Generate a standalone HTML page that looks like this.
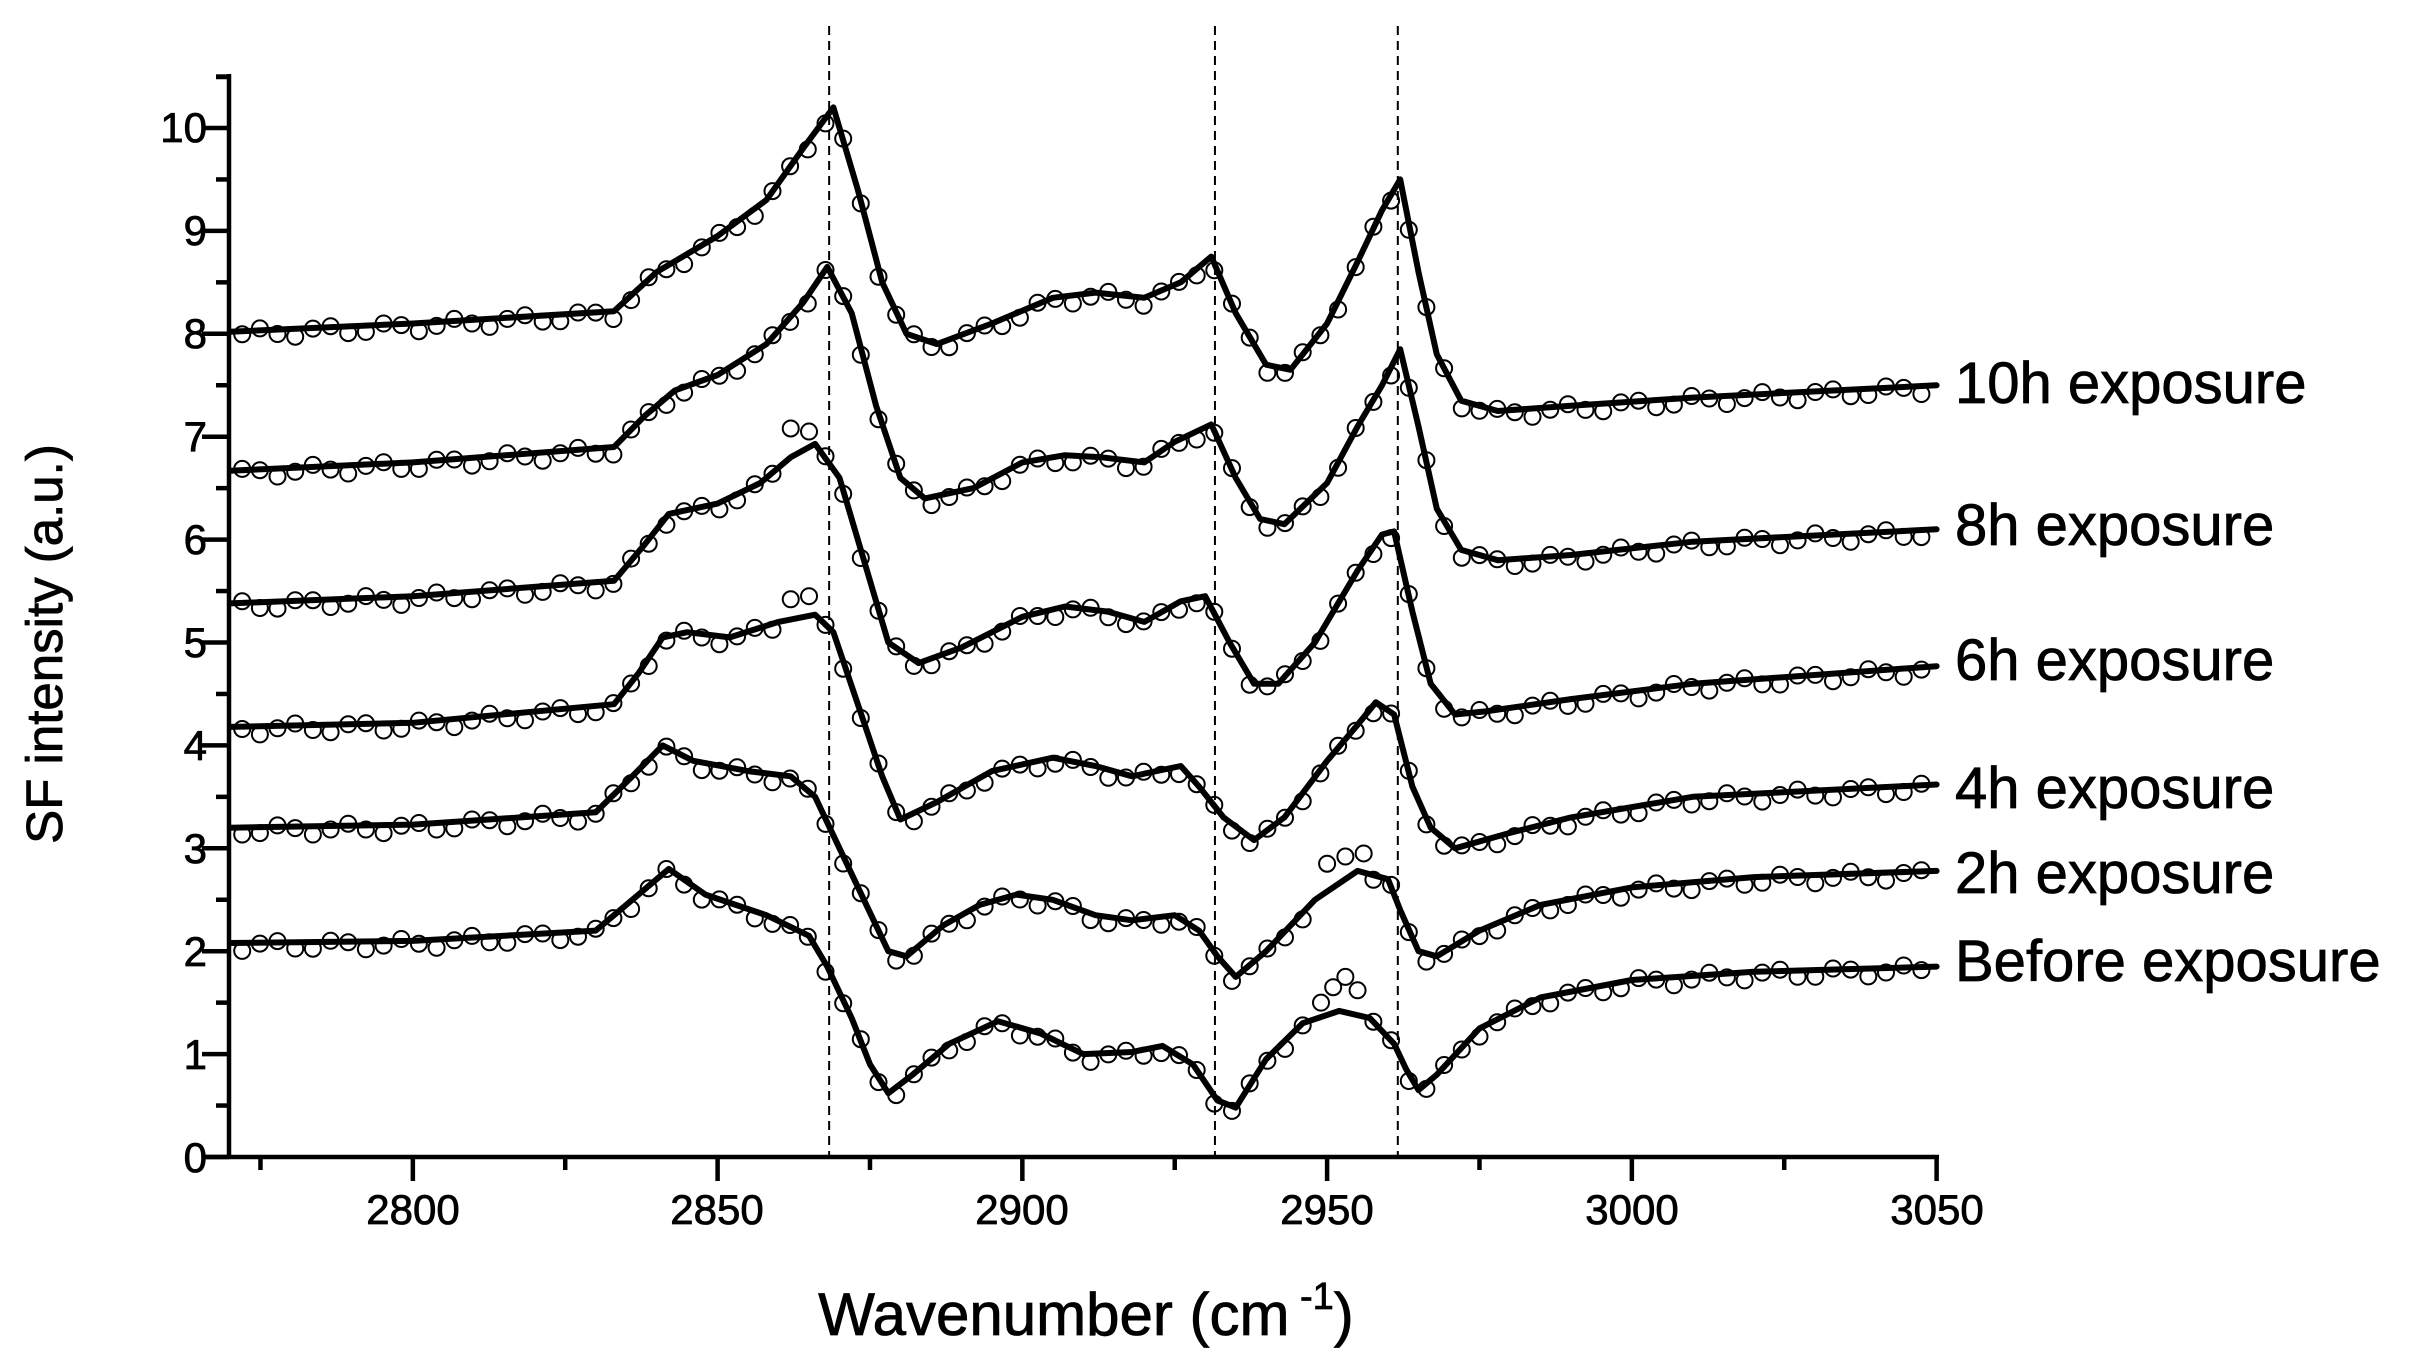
<!DOCTYPE html>
<html><head><meta charset="utf-8"><style>
html,body{margin:0;padding:0;background:#fff;}
svg{display:block;font-family:"Liberation Sans",Arial,sans-serif;}
</style></head><body>
<svg id="s" width="2418" height="1360" viewBox="0 0 2418 1360" xmlns="http://www.w3.org/2000/svg">
<g id="g"></g>
<g font-size="42" fill="#000" stroke="#000" stroke-width="0.8">
<text x="207" y="1172" text-anchor="end">0</text>
<text x="207" y="1069" text-anchor="end">1</text>
<text x="207" y="966" text-anchor="end">2</text>
<text x="207" y="863" text-anchor="end">3</text>
<text x="207" y="760" text-anchor="end">4</text>
<text x="207" y="657" text-anchor="end">5</text>
<text x="207" y="554" text-anchor="end">6</text>
<text x="207" y="451" text-anchor="end">7</text>
<text x="207" y="348" text-anchor="end">8</text>
<text x="207" y="245" text-anchor="end">9</text>
<text x="207" y="142" text-anchor="end">10</text>
<text x="413" y="1224" text-anchor="middle">2800</text>
<text x="717" y="1224" text-anchor="middle">2850</text>
<text x="1022" y="1224" text-anchor="middle">2900</text>
<text x="1327" y="1224" text-anchor="middle">2950</text>
<text x="1632" y="1224" text-anchor="middle">3000</text>
<text x="1937" y="1224" text-anchor="middle">3050</text>
</g>
<text x="1086" y="1335" font-size="60" text-anchor="middle" stroke="#000" stroke-width="0.8">Wavenumber (cm<tspan font-size="38" dy="-26"> -1</tspan><tspan dy="26">)</tspan></text>
<text transform="translate(62,644) rotate(-90)" font-size="51" text-anchor="middle" stroke="#000" stroke-width="0.8">SF intensity (a.u.)</text>
<g font-size="58" stroke="#000" stroke-width="0.8">
<text x="1955" y="403">10h exposure</text>
<text x="1955" y="545">8h exposure</text>
<text x="1955" y="680">6h exposure</text>
<text x="1955" y="808">4h exposure</text>
<text x="1955" y="893">2h exposure</text>
<text x="1955" y="981">Before exposure</text>
</g>
</svg>
<script>
var X=function(v){return 230+(v-2770)*6.095;},Y=function(v){return 1157-v*102.9;};
var S=[
[[2770,8.02],[2800,8.1],[2833,8.22],[2840,8.6],[2850,8.95],[2858,9.3],[2864,9.8],[2869,10.2],[2873,9.4],[2877,8.5],[2881,8.0],[2886,7.9],[2895,8.1],[2905,8.35],[2912,8.4],[2920,8.35],[2926,8.5],[2931,8.75],[2935,8.2],[2940,7.7],[2944,7.65],[2950,8.1],[2955,8.7],[2959,9.2],[2962,9.5],[2965,8.6],[2968,7.8],[2972,7.35],[2978,7.25],[2990,7.3],[3010,7.38],[3050,7.5]],
[[2770,6.67],[2800,6.75],[2833,6.9],[2838,7.2],[2843,7.45],[2850,7.6],[2858,7.9],[2864,8.3],[2868,8.65],[2872,8.2],[2876,7.3],[2880,6.6],[2884,6.4],[2892,6.5],[2900,6.75],[2907,6.82],[2913,6.8],[2920,6.75],[2925,6.95],[2931,7.12],[2935,6.6],[2939,6.2],[2943,6.15],[2950,6.55],[2955,7.1],[2959,7.5],[2962,7.85],[2965,7.1],[2968,6.3],[2972,5.9],[2978,5.8],[2990,5.85],[3010,5.98],[3050,6.1]],
[[2770,5.38],[2800,5.45],[2833,5.6],[2838,5.95],[2842,6.25],[2850,6.35],[2857,6.55],[2862,6.8],[2866,6.93],[2870,6.6],[2874,5.8],[2878,5.0],[2883,4.8],[2890,4.95],[2900,5.25],[2907,5.35],[2914,5.3],[2920,5.2],[2926,5.4],[2930,5.45],[2934,5.0],[2938,4.6],[2942,4.6],[2948,5.0],[2955,5.7],[2959,6.05],[2961,6.08],[2964,5.3],[2967,4.6],[2971,4.3],[2976,4.33],[2990,4.45],[3010,4.6],[3050,4.77]],
[[2770,4.18],[2800,4.22],[2833,4.4],[2837,4.7],[2841,5.05],[2845,5.1],[2852,5.05],[2860,5.2],[2866,5.27],[2869,5.1],[2873,4.4],[2877,3.7],[2880,3.28],[2886,3.45],[2895,3.75],[2905,3.88],[2912,3.8],[2918,3.7],[2926,3.8],[2929,3.6],[2933,3.3],[2938,3.08],[2943,3.3],[2950,3.85],[2955,4.2],[2958,4.42],[2961,4.3],[2964,3.6],[2967,3.2],[2971,3.0],[2980,3.15],[2990,3.3],[3010,3.5],[3050,3.62]],
[[2770,3.2],[2800,3.23],[2830,3.35],[2836,3.7],[2841,4.0],[2846,3.85],[2855,3.75],[2862,3.7],[2866,3.5],[2870,3.0],[2874,2.5],[2878,2.0],[2881,1.95],[2887,2.25],[2893,2.45],[2899,2.55],[2905,2.5],[2912,2.35],[2918,2.3],[2925,2.35],[2929,2.2],[2932,1.95],[2935,1.75],[2940,2.0],[2948,2.5],[2955,2.78],[2960,2.7],[2962,2.4],[2965,2.0],[2968,1.95],[2975,2.2],[2985,2.45],[3000,2.62],[3020,2.72],[3050,2.78]],
[[2770,2.08],[2800,2.1],[2830,2.2],[2836,2.5],[2842,2.8],[2848,2.55],[2858,2.35],[2865,2.15],[2868,1.85],[2872,1.35],[2875,0.9],[2878,0.62],[2882,0.8],[2888,1.1],[2896,1.32],[2903,1.2],[2910,1.0],[2918,1.02],[2923,1.08],[2928,0.9],[2932,0.55],[2935,0.48],[2940,0.95],[2946,1.3],[2952,1.42],[2957,1.35],[2961,1.1],[2963,0.85],[2965,0.65],[2968,0.8],[2975,1.25],[2985,1.55],[3000,1.72],[3020,1.8],[3050,1.85]]];
function interp(p,x){for(var i=1;i<p.length;i++){if(x<=p[i][0]){var a=p[i-1],b=p[i];return a[1]+(b[1]-a[1])*(x-a[0])/(b[0]-a[0]);}}return p[p.length-1][1];}
var h='';
h+='<line x1="229" y1="74" x2="229" y2="1159" stroke="#000" stroke-width="4.5"/>';
h+='<line x1="203" y1="1157" x2="1939" y2="1157" stroke="#000" stroke-width="4.5"/>';
for(var v=0;v<=10.5;v+=0.5){var y=Y(v);var L=(Math.abs(v-Math.round(v))<0.01)?27:13;h+='<line x1="'+(229-L)+'" y1="'+y+'" x2="229" y2="'+y+'" stroke="#000" stroke-width="4.5"/>';}
h+='<line x1="216" y1="77" x2="229" y2="77" stroke="#000" stroke-width="4.5"/>';
for(var w=2775;w<=3050;w+=25){var x=X(w);var L=(w%50==0)?24:13;h+='<line x1="'+x+'" y1="1157" x2="'+x+'" y2="'+(1157+L)+'" stroke="#000" stroke-width="4.5"/>';}
[2868.3,2931.6,2961.6].forEach(function(w){var x=X(w);h+='<line x1="'+x+'" y1="26" x2="'+x+'" y2="1157" stroke="#000" stroke-width="2" stroke-dasharray="9,6"/>';});
var extra=[[],[],[[2865,7.05],[2862,7.08]],[[2862,5.42],[2865,5.45]],[[2950,2.85],[2953,2.92],[2956,2.95]],[[2949,1.5],[2951,1.65],[2953,1.75],[2955,1.62]]];
S.forEach(function(p,k){
  for(var w=2772,i=0;w<=3050;w+=2.9,i++){
    var skip=false;extra[k].forEach(function(e){if(Math.abs(e[0]-w)<1.5)skip=true;});
    if(skip)continue;
    var d=Math.sin(i*1.7+k)*0.05-0.03;
    h+='<circle cx="'+X(w).toFixed(1)+'" cy="'+Y(interp(p,w)+d).toFixed(1)+'" r="8" fill="none" stroke="#000" stroke-width="2"/>';
  }
  extra[k].forEach(function(e){h+='<circle cx="'+X(e[0])+'" cy="'+Y(e[1])+'" r="8" fill="none" stroke="#000" stroke-width="2"/>';});
});
S.forEach(function(p){var pts=p.map(function(q){return X(q[0]).toFixed(1)+','+Y(q[1]).toFixed(1);}).join(' ');
h+='<polyline points="'+pts+'" fill="none" stroke="#000" stroke-width="6" stroke-linejoin="round" stroke-linecap="round"/>';});
document.getElementById('g').innerHTML=h;
</script>
</body></html>
